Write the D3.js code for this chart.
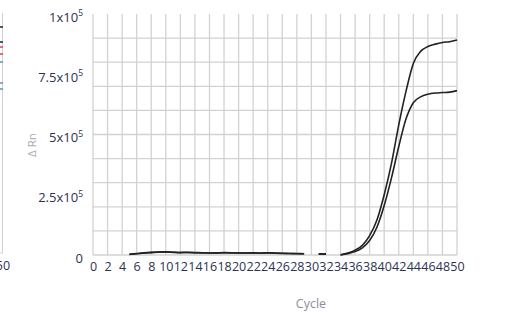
<!DOCTYPE html>
<html>
<head>
<meta charset="utf-8">
<script src="https://cdn.jsdelivr.net/npm/d3@7"></script>
<style>
body{margin:0;background:#fff;}
text{font-family:"Open Sans",Lato,sans-serif;}
</style>
</head>
<body>
<script>
var cycles=[0,1,2,3,4,5,6,7,8,9,10,11,12,13,14,15,16,17,18,19,20,21,22,23,24,25,26,27,28,29,30,31,32,33,34,35,36,37,38,39,40,41,42,43,44,45,46,47,48,49,50]
var xTicks=[0,2,4,6,8,10,12,14,16,18,20,22,24,26,28,30,32,34,36,38,40,42,44,46,48,50]
var yTicks=[0,250000,500000,750000,1000000]
var yTickLabels=["0","2.5x10","5x10","7.5x10","1x10"]
var yGrid=[0,100000,200000,300000,400000,500000,600000,700000,800000,900000]
// two amplification curves, null = no reading
var upper=[null,null,null,null,null,3000,6000,9000,11000,12500,13000,11500,10500,11000,10000,9500,8500,9000,10000,9500,8500,8500,9000,8000,9500,8000,7000,6500,6000,5500,null,4500,4000,null,1000,8000,20000,40000,80000,145000,250000,380000,540000,680000,795000,845000,865000,875000,882000,885000,892000]
var lower=[null,null,null,null,null,2500,5000,8000,10000,12000,12500,11000,10000,10500,9500,9000,8000,8500,9500,9000,8000,8000,8500,7500,9000,7500,6500,6000,5500,5000,null,4000,3500,null,0,5000,14000,30000,60000,115000,205000,320000,450000,565000,632000,656000,667000,672000,674000,676000,682000]
// bits of the neighbouring chart that are cut off on the left
var sideMarks=[{y:27,c:"#222"},{y:42,c:"#222"},{y:47,c:"#e8385a"},{y:54,c:"#e8385a"},{y:62,c:"#5b8fb0"},{y:83,c:"#8a7fa8"},{y:89,c:"#4a9aa6"}]

var svg=d3.select("body").append("svg")
  .attr("width",507)
  .attr("height",315)

var x=d3.scaleLinear().domain([0,50]).range([93,457])
var y=d3.scaleLinear().domain([0,1000000]).range([255,14])

// grid
svg.append("g")
  .selectAll("line.v")
  .data(xTicks)
  .enter()
  .append("line")
  .attr("x1",function(d){return x(d)})
  .attr("x2",function(d){return x(d)})
  .attr("y1",y(1000000))
  .attr("y2",y(0))
  .attr("stroke","#d2d2d2")
  .attr("stroke-width",1.3)
svg.append("g")
  .selectAll("line.h")
  .data(yGrid)
  .enter()
  .append("line")
  .attr("x1",x(0))
  .attr("x2",x(50))
  .attr("y1",function(d){return y(d)})
  .attr("y2",function(d){return y(d)})
  .attr("stroke","#d2d2d2")
  .attr("stroke-width",1.3)

// x axis labels
var xAxis=svg.append("g")
  .attr("transform","translate(0,"+y(0)+")")
  .call(d3.axisBottom(x).tickValues(xTicks).tickSize(0).tickPadding(7))
xAxis.select(".domain").remove()
xAxis.selectAll("text")
  .attr("fill","#2b3253")
  .style("font-size","12.5px")
  .style("font-family","'Open Sans',sans-serif")

// y axis labels with superscript
var yl=svg.append("g")
  .selectAll("text")
  .data(yTicks)
  .enter()
  .append("text")
  .attr("x",83)
  .attr("y",function(d){return y(d)+7.5})
  .attr("text-anchor","end")
  .attr("fill","#2b3253")
  .style("font-size","13px")
yl.append("tspan")
  .text(function(d,i){return yTickLabels[i]})
yl.filter(function(d){return d>0})
  .append("tspan")
  .attr("dy","-5.5")
  .style("font-size","8.5px")
  .text("5")

// curves
var line=d3.line()
  .defined(function(d){return d.v!=null})
  .x(function(d){return x(d.c)})
  .y(function(d){return y(d.v)})
  .curve(d3.curveMonotoneX)
;[upper,lower].forEach(function(s){
  var pts=cycles.map(function(c,i){return {c:c,v:s[i]}})
  svg.append("path")
    .datum(pts)
    .attr("d",line)
    .attr("fill","none")
    .attr("stroke","#222")
    .attr("stroke-width",1.6)
})

// axis titles
svg.append("text")
  .attr("transform","translate(36,145) rotate(-90)")
  .attr("text-anchor","middle")
  .attr("fill","#a8a9b8")
  .style("font-size","11.5px")
  .text("\u0394 Rn")
svg.append("text")
  .attr("x",311)
  .attr("y",308)
  .attr("text-anchor","middle")
  .attr("fill","#8c8d9c")
  .style("font-size","12.5px")
  .text("Cycle")

// neighbour chart edge
svg.append("line")
  .attr("x1",2.5).attr("x2",2.5)
  .attr("y1",13).attr("y2",253)
  .attr("stroke","#d2d2d2")
svg.append("line")
  .attr("x1",0).attr("x2",3)
  .attr("y1",253).attr("y2",253)
  .attr("stroke","#d2d2d2")
svg.append("g")
  .selectAll("line")
  .data(sideMarks)
  .enter()
  .append("line")
  .attr("x1",0).attr("x2",3)
  .attr("y1",function(d){return d.y})
  .attr("y2",function(d){return d.y})
  .attr("stroke",function(d){return d.c})
  .attr("stroke-width",1.5)
svg.append("text")
  .attr("x",3)
  .attr("y",270)
  .attr("text-anchor","middle")
  .attr("fill","#2b3253")
  .style("font-size","12.5px")
  .text("50")
</script>
</body>
</html>
